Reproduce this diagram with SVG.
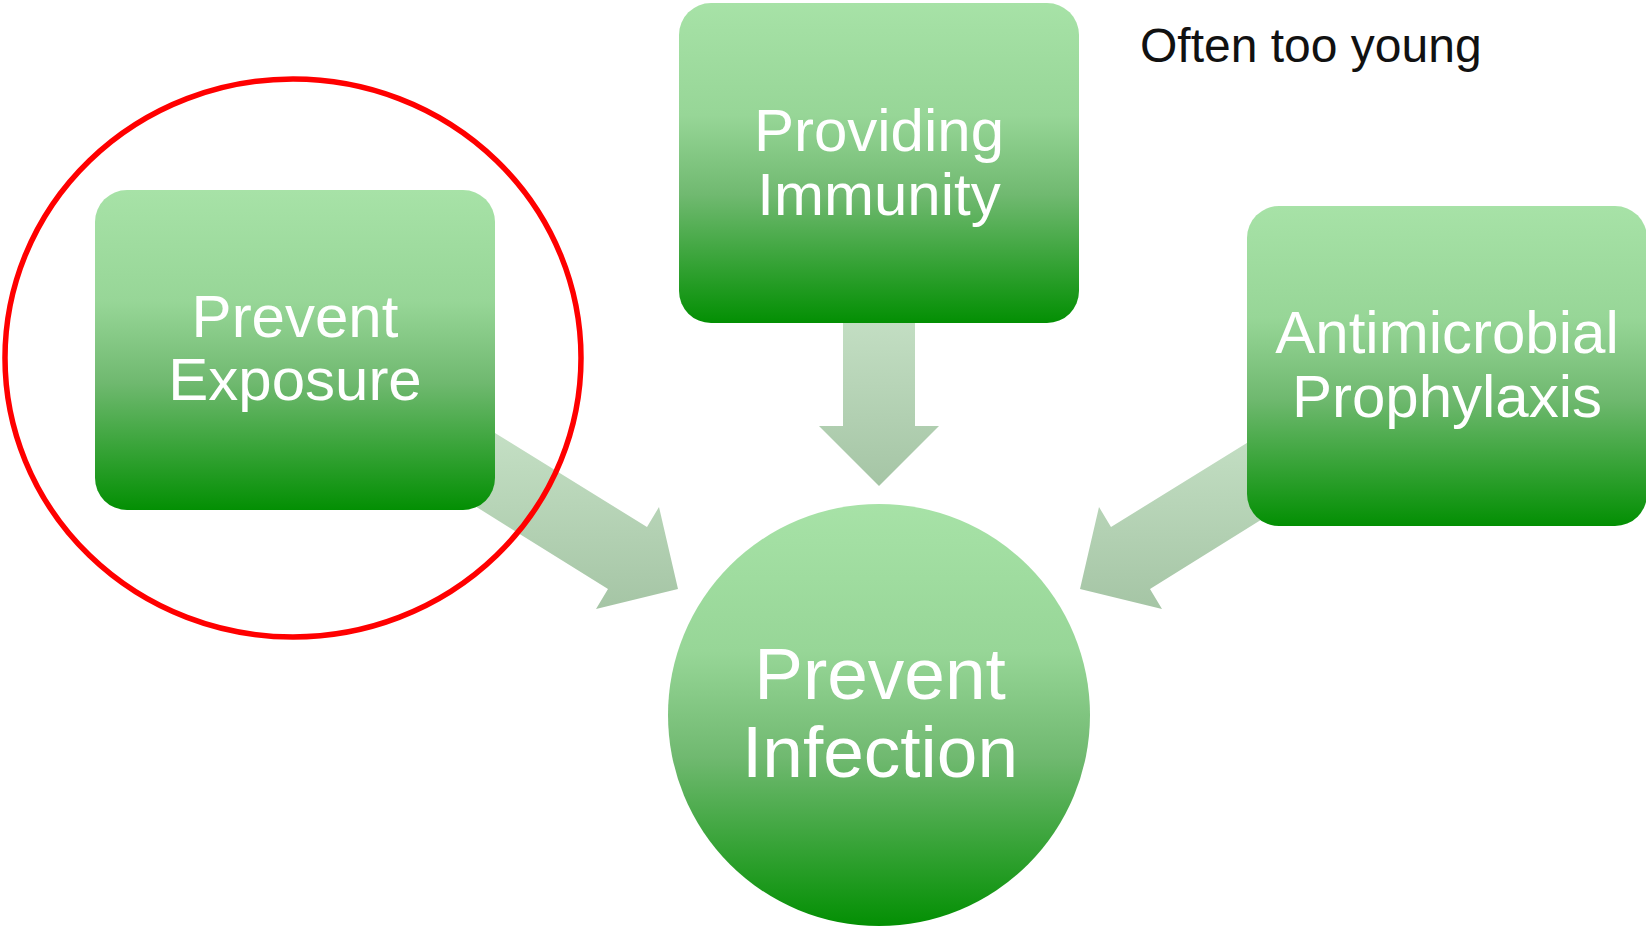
<svg xmlns="http://www.w3.org/2000/svg" width="1646" height="927" viewBox="0 0 1646 927">
<style>
.lbl{font-family:"Liberation Sans",Arial,sans-serif;fill:#ffffff;text-anchor:middle;font-size:60px}
.big{font-size:73px}
.note{font-family:"Liberation Sans",Arial,sans-serif;fill:#111111;font-size:48px}
.node{fill:url(#ng)}
.arrow{fill:url(#ag)}
</style>
<defs>
<linearGradient id="ng" x1="0" y1="0" x2="0" y2="1">
<stop offset="0" stop-color="#a7e2a7"/>
<stop offset="0.35" stop-color="#97d697"/>
<stop offset="0.6" stop-color="#70b970"/>
<stop offset="1" stop-color="#038f03"/>
</linearGradient>
<linearGradient id="ag" x1="0" y1="0" x2="0" y2="1">
<stop offset="0" stop-color="#c4dfc4"/>
<stop offset="1" stop-color="#a5c5a5"/>
</linearGradient>
</defs>
<rect width="1646" height="927" fill="#ffffff"/>
<g id="connectors">
<polygon class="arrow" points="843,315 915,315 915,426 939,426 879,486 819,426 843,426"/>
<polygon class="arrow" points="495,433 647,527 659,507 678,589 596,609 608,589 438,483 460,440"/>
<polygon class="arrow" points="1263,433 1111,527 1099,507 1080,589 1162,609 1150,589 1320,483 1298,440"/>
</g>
<g id="node-exposure">
<rect class="node" x="95" y="190" width="400" height="320" rx="32"/>
<text class="lbl" x="295" y="337">Prevent</text>
<text class="lbl" x="295" y="400">Exposure</text>
</g>
<g id="node-immunity">
<rect class="node" x="679" y="3" width="400" height="320" rx="32"/>
<text class="lbl" x="879" y="151">Providing</text>
<text class="lbl" x="879" y="215">Immunity</text>
</g>
<g id="node-prophylaxis">
<rect class="node" x="1247" y="206" width="400" height="320" rx="32"/>
<text class="lbl" x="1447" y="353">Antimicrobial</text>
<text class="lbl" x="1447" y="417">Prophylaxis</text>
</g>
<g id="node-infection">
<circle class="node" cx="879" cy="715" r="211"/>
<text class="lbl big" x="880" y="699">Prevent</text>
<text class="lbl big" x="880" y="777">Infection</text>
</g>
<g id="highlight">
<ellipse cx="293" cy="358" rx="288" ry="279" fill="none" stroke="#ff0000" stroke-width="5.5"/>
</g>
<g id="note">
<text class="note" x="1140" y="62">Often too young</text>
</g>
</svg>
